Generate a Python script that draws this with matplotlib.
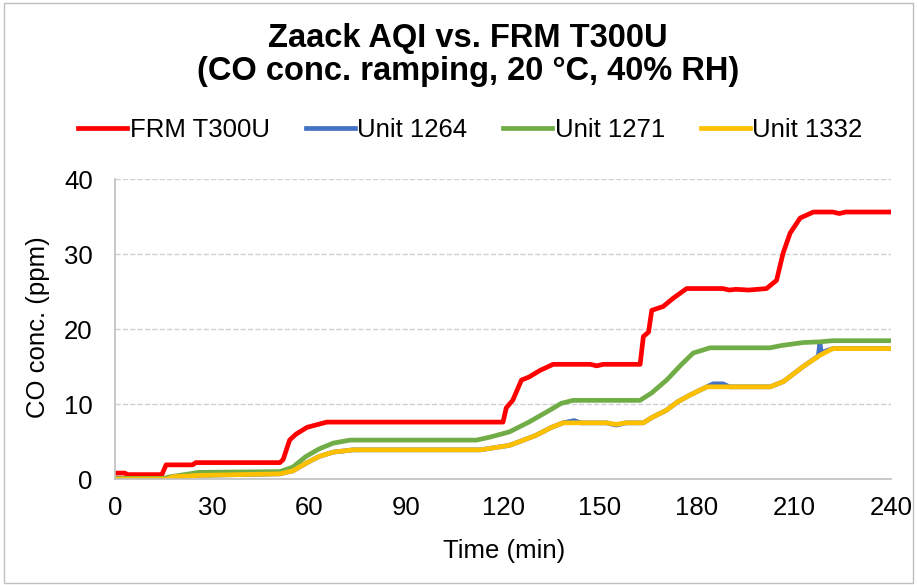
import matplotlib.pyplot as plt
from matplotlib.patches import Rectangle

plt.rcParams['font.family'] = ['Liberation Sans', 'DejaVu Sans']

# time (min) / CO conc (ppm)
red_t = [0, 3, 4, 14.5, 15.8, 24, 25, 51, 52, 54, 56, 59.4, 62, 65.5, 120, 121, 123, 125.7, 128,
         131.5, 135.5, 147, 149, 151, 162.4, 163.4, 165, 166, 169.5, 172.6, 176.8, 188, 190, 192,
         196, 201.5, 204.6, 206.6, 208.8, 211.9, 216, 222, 224, 226, 240]
red_v = [0.8, 0.8, 0.6, 0.6, 1.9, 1.9, 2.2, 2.2, 2.6, 5.2, 6.0, 6.9, 7.2, 7.6, 7.6, 9.5, 10.5, 13.2, 13.6,
         14.5, 15.3, 15.3, 15.1, 15.3, 15.3, 19.0, 19.6, 22.5, 23.0, 24.1, 25.4, 25.4, 25.2, 25.3,
         25.2, 25.4, 26.5, 30.1, 32.8, 34.8, 35.6, 35.6, 35.4, 35.6, 35.6]

blue_t = [0, 16, 18, 26, 51, 55, 59, 63, 67.5, 73.7, 113, 122, 130, 135, 138.6, 142, 144, 152, 155,
          158, 163.4, 166, 170.6, 174, 177.8, 183, 185, 188, 190, 202.6, 206.7, 212.8, 217.5, 218,
          218.5, 220, 222, 240]
blue_v = [0.0, 0.0, 0.3, 0.5, 0.7, 1.1, 2.1, 3.0, 3.6, 3.9, 3.9, 4.5, 5.8, 6.9, 7.5, 7.8, 7.5, 7.5, 7.2,
          7.5, 7.5, 8.2, 9.2, 10.3, 11.2, 12.3, 12.7, 12.7, 12.3, 12.3, 13.0, 15.0, 16.4, 18.1,
          16.8, 17.1, 17.4, 17.4]

green_t = [0, 15, 17, 26, 51, 55, 59, 63, 67.5, 72.7, 111.8, 116, 122, 128, 134.5, 138, 141.7, 162.4,
           166, 170.6, 175, 178.8, 184, 202.6, 206, 212.8, 218, 222, 240]
green_v = [0.1, 0.1, 0.3, 0.9, 1.0, 1.6, 3.0, 4.0, 4.8, 5.2, 5.2, 5.6, 6.3, 7.6, 9.2, 10.1, 10.5, 10.5,
           11.5, 13.2, 15.2, 16.8, 17.5, 17.5, 17.8, 18.2, 18.3, 18.45, 18.45]

yellow_t = [0, 16, 18, 26, 51, 55, 59, 63, 67.5, 73.7, 113, 122, 130, 135, 138.6, 152, 155, 158,
            163.4, 166, 170.6, 174, 177.8, 183, 202.6, 206.7, 212.8, 218, 222, 240]
yellow_v = [0.0, 0.0, 0.3, 0.5, 0.7, 1.1, 2.1, 3.0, 3.6, 3.9, 3.9, 4.5, 5.8, 6.9, 7.5, 7.5, 7.3, 7.5,
            7.5, 8.2, 9.2, 10.3, 11.2, 12.3, 12.3, 13.0, 15.0, 16.5, 17.4, 17.4]

fig = plt.figure(figsize=(9.17, 5.85), dpi=100)
ax = fig.add_axes([0.1254, 0.181, 0.8463, 0.513])

ax.plot(red_t, red_v, color='#FF0000', lw=3.4, label='FRM T300U')
ax.plot(blue_t, blue_v, color='#4472C4', lw=3.4, label='Unit 1264')
ax.plot(green_t, green_v, color='#70AD47', lw=3.4, label='Unit 1271')
ax.plot(yellow_t, yellow_v, color='#FFC000', lw=3.4, label='Unit 1332')

ax.set_xlim(0, 240)
ax.set_ylim(0, 40)
ax.set_xticks(range(0, 241, 30))
ax.set_yticks(range(0, 41, 10))
ax.tick_params(length=0, labelsize=18.5, colors='#000000')
ax.tick_params(axis='y', pad=16)
ax.tick_params(axis='x', pad=12)
ax.grid(axis='y', color='#D0D0D0', ls='--', lw=1)
ax.set_axisbelow(True)
for s in ['top', 'right']:
    ax.spines[s].set_visible(False)
for s in ['left', 'bottom']:
    ax.spines[s].set_color('#BFBFBF')
    ax.spines[s].set_linewidth(1.2)

ax.set_xlabel('Time (min)', fontsize=18.5, va='baseline')
ax.xaxis.set_label_coords(0.502, -0.263)
ax.set_ylabel('CO conc. (ppm)', fontsize=18.5, va='center')
ax.yaxis.set_label_coords(-0.099, 0.507)

fig.text(0.51, 1 - 47 / 585, 'Zaack AQI vs. FRM T300U', ha='center', va='baseline',
         fontsize=23.5, fontweight='bold')
fig.text(0.51, 1 - 80 / 585, '(CO conc. ramping, 20 °C, 40% RH)', ha='center', va='baseline',
         fontsize=23.5, fontweight='bold')

fig.legend(loc='center', bbox_to_anchor=(0.513, 0.778), ncol=4, frameon=False, fontsize=18.5,
           handlelength=1.9, handletextpad=0.1, columnspacing=1.4)

fig.patches.append(Rectangle((0.004, 0.003), 0.992, 0.992, transform=fig.transFigure,
                             fill=False, edgecolor='#BFBFBF', lw=1))

fig.savefig('out.png', dpi=100)
